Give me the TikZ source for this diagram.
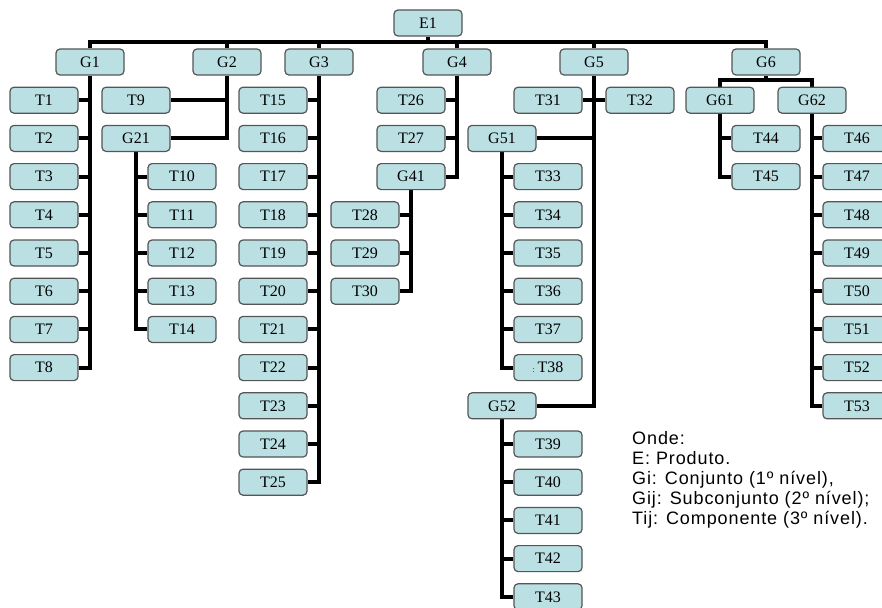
\documentclass[tikz,border=0pt]{standalone}
\usepackage{fontspec}
\setmainfont{Liberation Serif}
\newfontfamily\legfont[LetterSpace=5]{Liberation Sans}
\usetikzlibrary{backgrounds}
\definecolor{boxfill}{RGB}{187,224,228}
\definecolor{boxline}{RGB}{85,85,85}
\begin{document}
\begin{tikzpicture}[x=1pt,y=-1pt,
  box/.style={draw=boxline, fill=boxfill, line width=1.2pt, rounded corners=4pt,
    minimum width=68pt, minimum height=26pt, inner sep=0pt,
    font=\fontsize{16}{16}\selectfont},
  link/.style={line width=4pt, draw=black}]
\useasboundingbox (0,0) rectangle (882,607);

% level 0 and 1
\node[box] (E1) at (428,23) {E1};
\node[box] (G1) at (90,62) {G1};
\node[box] (G2) at (227,62) {G2};
\node[box] (G3) at (319,62) {G3};
\node[box] (G4) at (457,62) {G4};
\node[box] (G5) at (594,62) {G5};
\node[box] (G6) at (766,62) {G6};

% G1
\foreach \i in {1,...,8} \node[box] (T\i) at (44,{62+38.2*\i}) {T\i};
% G2
\node[box] (T9) at (136,{62+38.2*1}) {T9};
\node[box] (G21) at (136,{62+38.2*2}) {G21};
\foreach \i in {10,...,14} \node[box] (T\i) at (182,{62+38.2*(\i-7)}) {T\i};
% G3
\foreach \i in {15,...,25} \node[box] (T\i) at (273,{62+38.2*(\i-14)}) {T\i};
% G4
\node[box] (T26) at (411,{62+38.2*1}) {T26};
\node[box] (T27) at (411,{62+38.2*2}) {T27};
\node[box] (G41) at (411,{62+38.2*3}) {G41};
\foreach \i in {28,29,30} \node[box] (T\i) at (365,{62+38.2*(\i-24)}) {T\i};
% G5
\node[box] (T31) at (548,{62+38.2*1}) {T31};
\node[box] (T32) at (640,{62+38.2*1}) {T32};
\node[box] (G51) at (502,{62+38.2*2}) {G51};
\foreach \i in {33,...,37} \node[box] (T\i) at (548,{62+38.2*(\i-30)}) {T\i};
\node[box] (T38) at (548,{62+38.2*8}) {{\fontsize{8}{8}\selectfont :}\,T38};
\node[box] (G52) at (502,{62+38.2*9}) {G52};
\foreach \i in {39,...,43} \node[box] (T\i) at (548,{62+38.2*(\i-29)}) {T\i};
% G6
\node[box] (G61) at (720,{62+38.2*1}) {G61};
\node[box] (G62) at (812,{62+38.2*1}) {G62};
\foreach \i in {44,45} \node[box] (T\i) at (766,{62+38.2*(\i-42)}) {T\i};
\foreach \i in {46,...,53} \node[box] (T\i) at (857,{62+38.2*(\i-44)}) {T\i};

% legend
\node[anchor=north west, align=left, inner sep=0pt,
  font=\legfont\fontsize{18}{20}\selectfont] (leg) at (632,431)
  {Onde:\\E: Produto.\\Gi: Conjunto (1º nível),\\Gij: Subconjunto (2º nível);\\Tij: Componente (3º nível).};

\begin{pgfonlayer}{background}
\coordinate (bus) at (428,42);
\draw[link] (G1.north) |- (bus) -| (G6.north);
\draw[link] (E1.south) -- (bus);
\foreach \g in {G2,G3,G4,G5} \draw[link] (\g.north) -- (\g.north |- bus);
% G1
\draw[link] (G1.south) |- (T8.east);
\foreach \i in {1,...,7} \draw[link] (T\i.east) -- (T\i.east -| G1.south);
% G2
\draw[link] (G2.south) |- (G21.east);
\draw[link] (T9.east) -- (T9.east -| G2.south);
\draw[link] (G21.south) |- (T14.west);
\foreach \i in {10,...,13} \draw[link] (T\i.west) -- (T\i.west -| G21.south);
% G3
\draw[link] (G3.south) |- (T25.east);
\foreach \i in {15,...,24} \draw[link] (T\i.east) -- (T\i.east -| G3.south);
% G4
\draw[link] (G4.south) |- (G41.east);
\foreach \i in {26,27} \draw[link] (T\i.east) -- (T\i.east -| G4.south);
\draw[link] (G41.south) |- (T30.east);
\foreach \i in {28,29} \draw[link] (T\i.east) -- (T\i.east -| G41.south);
% G5
\draw[link] (G5.south) |- (G52.east);
\draw[link] (T31.east) -- (T31.east -| G5.south);
\draw[link] (G51.east) -- (G51.east -| G5.south);
\draw[link] (T32.west) -- (T32.west -| G5.south);
\draw[link] (G51.south) |- (T38.west);
\foreach \i in {33,...,37} \draw[link] (T\i.west) -- (T\i.west -| G51.south);
\draw[link] (G52.south) |- (T43.west);
\foreach \i in {39,...,42} \draw[link] (T\i.west) -- (T\i.west -| G52.south);
% G6
\coordinate (b6) at (766,80);
\draw[link] (G61.north) |- (b6) -| (G62.north);
\draw[link] (G6.south) -- (b6);
\draw[link] (G61.south) |- (T45.west);
\draw[link] (T44.west) -- (T44.west -| G61.south);
\draw[link] (G62.south) |- (T53.west);
\foreach \i in {46,...,52} \draw[link] (T\i.west) -- (T\i.west -| G62.south);
\end{pgfonlayer}
\end{tikzpicture}
\end{document}
